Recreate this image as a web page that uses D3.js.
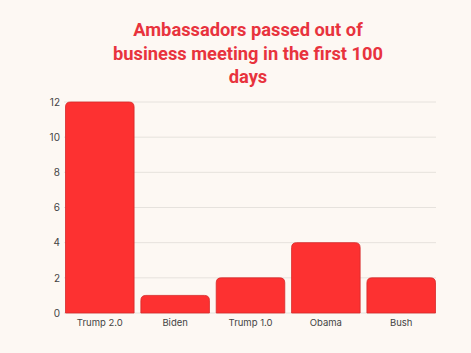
<!DOCTYPE html>
<html><head><meta charset="utf-8">
<script src="https://cdn.jsdelivr.net/npm/d3@7"></script>
<style>body{margin:0;background:#fdf8f3;}svg{display:block;}</style>
</head><body>
<svg id="c" width="471" height="353"></svg>
<script>
const categories = ["Trump 2.0", "Biden", "Trump 1.0", "Obama", "Bush"];
const values = [12, 1, 2, 4, 2];
const yTicks = [0, 2, 4, 6, 8, 10, 12];
const titleLines = ["Ambassadors passed out of", "business meeting in the first 100", "days"];

const svg = d3.select("#c");
svg.append("rect").attr("width", 471).attr("height", 353).attr("fill", "#fdf8f3");

const x = d3.scaleBand().domain(categories).range([64, 437]).paddingInner(0.09).paddingOuter(0.02);
const y = d3.scaleLinear().domain([0, 12]).range([313, 102]);

svg.append("g").selectAll("line").data(yTicks).join("line")
  .attr("x1", 64).attr("x2", 436)
  .attr("y1", d => y(d)).attr("y2", d => y(d))
  .attr("stroke", "#e6e2dd").attr("stroke-width", 1);

const yAxis = svg.append("g").attr("transform", "translate(60,0)")
  .call(d3.axisLeft(y).tickValues(yTicks).tickSize(0).tickPadding(0));
yAxis.select(".domain").remove();
yAxis.selectAll("text").attr("font-family", "Inter, 'Noto Sans', sans-serif").attr("font-size", 10).attr("fill", "#444");

const r = 5;
svg.append("g").selectAll("path").data(values).join("path")
  .attr("d", (d, i) => {
    const x0 = x(categories[i]), w = x.bandwidth(), y0 = y(d), y1 = y(0);
    return `M${x0},${y1}V${y0 + r}Q${x0},${y0} ${x0 + r},${y0}H${x0 + w - r}Q${x0 + w},${y0} ${x0 + w},${y0 + r}V${y1}Z`;
  })
  .attr("fill", "#fd3131").attr("stroke", "#d52a2a").attr("stroke-width", 0.8);

const xAxis = svg.append("g").attr("transform", "translate(0,313)")
  .call(d3.axisBottom(x).tickSize(0).tickPadding(6));
xAxis.select(".domain").remove();
xAxis.selectAll("text").attr("font-family", "Inter, 'Noto Sans', sans-serif").attr("font-size", 9.5).attr("fill", "#444");

svg.append("g").selectAll("text").data(titleLines).join("text")
  .attr("x", 248).attr("y", (d, i) => 36 + i * 23.5)
  .attr("text-anchor", "middle")
  .attr("font-family", "Roboto, 'Noto Sans', sans-serif").attr("font-weight", 700)
  .attr("font-size", 18.3).attr("fill", "#e8333d")
  .text(d => d);
</script>
</body></html>
